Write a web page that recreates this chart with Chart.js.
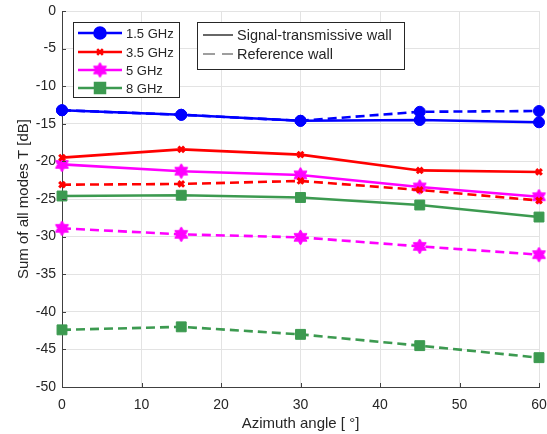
<!DOCTYPE html>
<html>
<head>
<meta charset="utf-8">
<script src="https://cdn.jsdelivr.net/npm/chart.js@4/dist/chart.umd.min.js"></script>
<style>
html,body{margin:0;padding:0;background:#fff;}
canvas{display:block;}
</style>
</head>
<body>
<canvas id="c" width="547" height="434"></canvas>
<script>
// ---- data ----
const angles = [0, 15, 30, 45, 60];
const xTicks = [0, 10, 20, 30, 40, 50, 60];
const yTicks = [0, -5, -10, -15, -20, -25, -30, -35, -40, -45, -50];

const freqLabels = ['1.5 GHz', '3.5 GHz', '5 GHz', '8 GHz'];
const wallLabels = ['Signal-transmissive wall', 'Reference wall'];

const s15_signal = [-13.2, -13.8, -14.6, -14.5, -14.8];
const s15_ref    = [-13.2, -13.8, -14.6, -13.4, -13.3];
const s35_signal = [-19.5, -18.4, -19.1, -21.2, -21.4];
const s35_ref    = [-23.1, -23.0, -22.6, -23.8, -25.2];
const s5_signal  = [-20.4, -21.3, -21.8, -23.4, -24.7];
const s5_ref     = [-28.9, -29.7, -30.1, -31.3, -32.4];
const s8_signal  = [-24.6, -24.5, -24.8, -25.8, -27.4];
const s8_ref     = [-42.4, -42.0, -43.0, -44.5, -46.1];

const xTitle = 'Azimuth angle [ °]';
const yTitle = 'Sum of all modes T [dB]';

// ---- styles ----
const BLUE = '#0000ff', RED = '#ff0000', MAG = '#ff00ff', GREEN = '#3c9a50';
const FONT = '"Liberation Sans", Arial, Helvetica, sans-serif';

function hexagram(color, R) {
  const size = Math.ceil(R * 2 + 2);
  const c = document.createElement('canvas');
  c.width = size; c.height = size;
  const g = c.getContext('2d');
  const cx = size / 2, cy = size / 2, r = R / Math.sqrt(3);
  g.beginPath();
  for (let i = 0; i < 12; i++) {
    const a = -Math.PI / 2 + i * Math.PI / 6;
    const rr = (i % 2 === 0) ? R : r;
    const px = cx + rr * Math.cos(a), py = cy + rr * Math.sin(a);
    if (i === 0) g.moveTo(px, py); else g.lineTo(px, py);
  }
  g.closePath();
  g.fillStyle = color; g.fill();
  g.strokeStyle = color; g.lineWidth = 1; g.stroke();
  return c;
}
const hexImg = hexagram(MAG, 7.5);

const markers = [
  {style: 'circle', radius: 5.5, bw: 1},
  {style: 'crossRot', radius: 4, bw: 3},
  {style: hexImg, radius: 7, bw: 1},
  {style: 'rect', radius: 7, bw: 1}
];
const colors = [BLUE, RED, MAG, GREEN];
const DASH = [9, 5];

function mk(data, i, dashed) {
  const m = markers[i];
  return {
    data: angles.map((a, k) => ({x: a, y: data[k]})),
    borderColor: colors[i],
    backgroundColor: colors[i],
    borderWidth: 2.6,
    borderDash: dashed ? DASH : [],
    pointStyle: m.style,
    pointRadius: m.radius,
    pointBorderWidth: m.bw,
    pointBackgroundColor: colors[i],
    pointBorderColor: colors[i],
    tension: 0,
    clip: false
  };
}

const datasets = [
  mk(s15_ref, 0, true), mk(s15_signal, 0, false),
  mk(s35_ref, 1, true), mk(s35_signal, 1, false),
  mk(s5_ref, 2, true), mk(s5_signal, 2, false),
  mk(s8_ref, 3, true), mk(s8_signal, 3, false)
];

const AXIS = '#404040';
const TEXT = '#262626';

const decor = {
  id: 'decor',
  afterDraw(chart) {
    const ctx = chart.ctx;
    const ca = chart.chartArea;
    const xs = chart.scales.x, ys = chart.scales.y;
    ctx.save();
    // inside ticks
    ctx.strokeStyle = AXIS; ctx.lineWidth = 1;
    ctx.beginPath();
    yTicks.forEach(v => {
      const y = Math.round(ys.getPixelForValue(v)) + 0.5;
      ctx.moveTo(ca.left, y); ctx.lineTo(ca.left + 4, y);
    });
    xTicks.forEach(v => {
      const x = Math.round(xs.getPixelForValue(v)) + 0.5;
      ctx.moveTo(x, ca.bottom); ctx.lineTo(x, ca.bottom - 4);
    });
    ctx.stroke();

    // legend 1
    ctx.fillStyle = '#fff';
    ctx.strokeStyle = TEXT; ctx.lineWidth = 1;
    ctx.fillRect(73.5, 22.5, 106, 75);
    ctx.strokeRect(73.5, 22.5, 106, 75);
    const ly = [33, 52, 70, 88];
    ctx.font = '13px ' + FONT;
    ctx.textBaseline = 'middle';
    freqLabels.forEach((lab, i) => {
      const y = ly[i];
      ctx.setLineDash([]);
      ctx.strokeStyle = colors[i]; ctx.lineWidth = 2.6;
      ctx.beginPath(); ctx.moveTo(78, y); ctx.lineTo(122, y); ctx.stroke();
      const m = markers[i];
      ctx.fillStyle = colors[i]; ctx.strokeStyle = colors[i];
      Chart.helpers.drawPoint(ctx, {pointStyle: m.style, radius: m.radius, borderWidth: m.bw, rotation: 0}, 100, y);
      ctx.fillStyle = TEXT;
      ctx.fillText(lab, 126, y + 1);
    });

    // legend 2
    ctx.fillStyle = '#fff';
    ctx.strokeStyle = TEXT; ctx.lineWidth = 1; ctx.setLineDash([]);
    ctx.fillRect(197.5, 22.5, 207, 47);
    ctx.strokeRect(197.5, 22.5, 207, 47);
    ctx.strokeStyle = '#000'; ctx.lineWidth = 1.2;
    ctx.beginPath(); ctx.moveTo(203, 35); ctx.lineTo(233, 35); ctx.stroke();
    ctx.strokeStyle = '#7f7f7f'; ctx.lineWidth = 1.6; ctx.setLineDash([12, 7]);
    ctx.beginPath(); ctx.moveTo(203, 54); ctx.lineTo(233, 54); ctx.stroke();
    ctx.setLineDash([]);
    ctx.fillStyle = TEXT;
    ctx.font = '14.5px ' + FONT;
    ctx.fillText(wallLabels[0], 237, 36);
    ctx.fillText(wallLabels[1], 237, 55);
    ctx.restore();
  }
};

new Chart(document.getElementById('c'), {
  type: 'line',
  data: {datasets},
  options: {
    responsive: false,
    animation: false,
    devicePixelRatio: 1,
    layout: {padding: {top: 11, right: 8, left: 0, bottom: 0}},
    plugins: {legend: {display: false}, tooltip: {enabled: false}},
    scales: {
      x: {
        type: 'linear', min: 0, max: 60,
        afterFit: s => { s.height = 47; s.paddingLeft = 0; s.paddingRight = 0; },
        afterBuildTicks: s => { s.ticks = xTicks.map(v => ({value: v})); },
        ticks: {font: {size: 14, family: FONT}, color: TEXT, padding: 10, maxRotation: 0},
        grid: {color: '#e3e3e3', drawTicks: false, lineWidth: 1},
        border: {color: AXIS, width: 1},
        title: {display: true, text: xTitle, font: {size: 15, family: FONT}, color: TEXT, padding: {top: 0, bottom: 1}}
      },
      y: {
        type: 'linear', min: -50, max: 0,
        afterFit: s => { s.width = 62; s.paddingTop = 0; s.paddingBottom = 0; },
        afterBuildTicks: s => { s.ticks = yTicks.map(v => ({value: v})); },
        ticks: {font: {size: 14, family: FONT}, color: TEXT, padding: 6},
        grid: {color: '#e3e3e3', drawTicks: false, lineWidth: 1},
        border: {color: AXIS, width: 1},
        title: {display: true, text: yTitle, font: {size: 15, family: FONT}, color: TEXT, padding: {top: 15, bottom: 0}}
      }
    }
  },
  plugins: [decor]
});
</script>
</body>
</html>
